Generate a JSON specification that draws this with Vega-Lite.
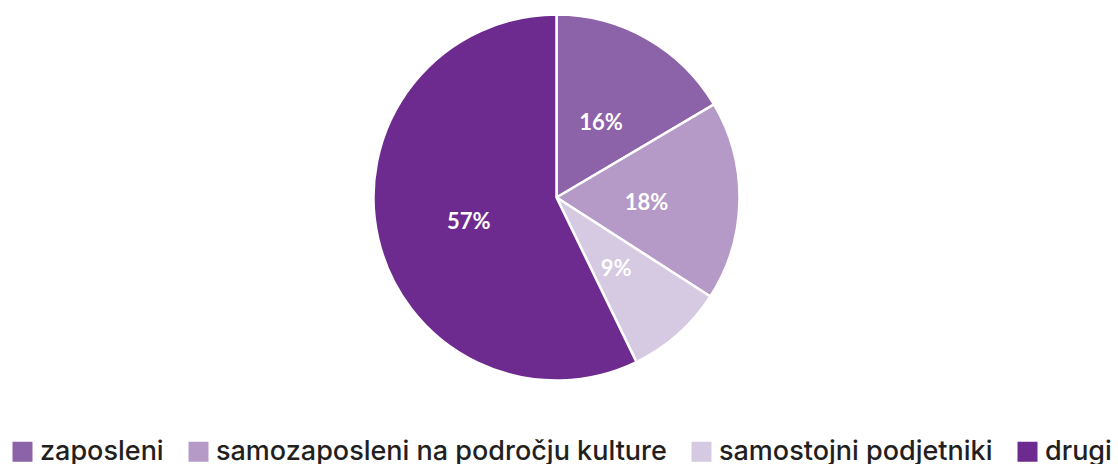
{
  "$schema": "https://vega.github.io/schema/vega-lite/v6.json",
  "width": 1113,
  "height": 395,
  "padding": {"left": 0, "top": 0, "right": 5, "bottom": 0},
  "autosize": {"type": "pad"},
  "background": "white",
  "view": {"stroke": null},
  "data": {"values": [
    {"cat": "zaposleni", "value": 16.5, "label": "16%", "idx": 1},
    {"cat": "samozaposleni na področju kulture", "value": 17.6, "label": "18%", "idx": 2},
    {"cat": "samostojni podjetniki", "value": 8.7, "label": "9%", "idx": 3},
    {"cat": "drugi", "value": 57.2, "label": "57%", "idx": 4}
  ]},
  "encoding": {
    "theta": {"field": "value", "type": "quantitative", "stack": true},
    "order": {"field": "idx", "type": "quantitative"},
    "color": {
      "field": "cat", "type": "nominal",
      "scale": {
        "domain": ["zaposleni", "samozaposleni na področju kulture", "samostojni podjetniki", "drugi"],
        "range": ["#8c62a8", "#b59ac8", "#d6c9e2", "#6e2b8f"]
      },
      "legend": {
        "orient": "bottom", "direction": "horizontal", "title": null,
        "symbolType": "square", "symbolSize": 400, "symbolStrokeWidth": 0,
        "labelFont": "Inter", "labelFontWeight": 500, "labelFontSize": 27, "labelColor": "#231f20",
        "labelLimit": 1000, "labelOffset": 4, "columnPadding": 21, "offset": 34, "padding": 9
      }
    }
  },
  "layer": [
    {"mark": {"type": "arc", "outerRadius": 183, "stroke": "white", "strokeWidth": 2.5}},
    {
      "mark": {"type": "text", "radius": 90, "dy": 4, "font": "Lato", "fontWeight": "bold", "fontSize": 22},
      "encoding": {
        "text": {"field": "label", "type": "nominal"},
        "detail": {"field": "cat", "type": "nominal"},
        "color": {"value": "white"}
      }
    }
  ]
}
